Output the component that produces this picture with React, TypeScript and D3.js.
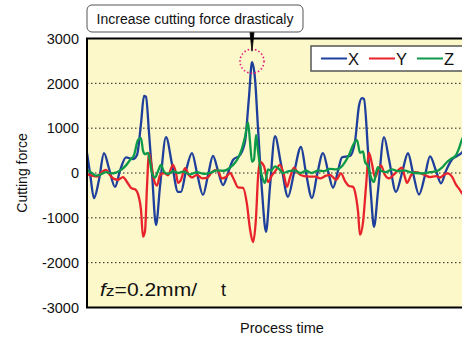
import React from 'react';
import * as d3 from 'd3';

// sampled cutting force, [process time, force]
const seriesX: [number, number][] = [
  [0, 450], [3, 0], [7, -560], [12, -150], [17, 445], [22, 100], [28, -310], [33, 50], [39, 350], [46, 310],
  [50, 400], [54, 1100], [57, 1720], [59, 1700], [62, 900], [65, 0], [69, -1160], [73, -300], [79, 800], [85, 200],
  [91, -420], [94, -420], [99, 50], [105, 445], [110, 0], [116, -490], [121, -50], [126, 380], [131, 50], [136, -270],
  [141, 0], [146, 290], [153, 400], [158, 700], [162, 1700], [165, 2470], [168, 2100], [171, 1000], [175, -400], [179, -1310],
  [183, -300], [188, 820], [194, 200], [201, -530], [207, 0], [214, 580], [219, 0], [225, -560], [230, -50], [236, 445],
  [241, 50], [246, -330], [251, 50], [255, 350], [263, 380], [268, 700], [272, 1500], [275, 1670], [277, 1650], [281, 500],
  [284, -500], [287, -1200], [291, -400], [297, 800], [302, 300], [309, -420], [315, 0], [321, 440], [326, 0], [332, -480],
  [338, -50], [343, 370], [349, 50], [354, -230], [359, 50], [365, 300], [370, 380], [375, 460], [379, 600],
];

const seriesY: [number, number][] = [
  [0, -30], [5, -60], [10, -80], [15, 30], [19, 70], [23, -50], [27, -130], [31, -150], [36, -90], [40, -200],
  [44, -330], [49, -380], [52, -550], [54, -820], [56, -1420], [58, -1300], [60, -300], [62, 445], [65, 100], [67, -150],
  [70, -280], [73, -50], [77, 0], [81, -50], [86, 180], [89, 0], [91, -220], [94, -150], [98, 110], [102, -50],
  [105, -100], [110, -40], [115, -120], [120, -110], [125, 20], [130, 70], [135, -120], [139, -90], [143, 0], [147, -150],
  [151, -320], [156, -330], [160, -700], [163, -1250], [166, -1540], [169, -1000], [171, -100], [173, 245], [177, 150], [181, -200],
  [185, -50], [188, 30], [193, 180], [197, -50], [200, -310], [203, -100], [207, 120], [211, 0], [217, -70], [223, -80],
  [229, -80], [233, -120], [239, -60], [243, -40], [249, -150], [254, -10], [258, -180], [262, -290], [266, -310], [269, -530],
  [271, -850], [273, -1380], [276, -1100], [279, -300], [282, 450], [285, 200], [288, -100], [291, 50], [294, 170], [298, -50],
  [302, -120], [307, -30], [311, 60], [315, 120], [318, -100], [320, -220], [324, -50], [328, 20], [333, 0], [338, -50],
  [343, -90], [349, -70], [353, -100], [357, -40], [361, -10], [365, -80], [369, -260], [372, -350], [375, -450], [379, -500],
];

const seriesZ: [number, number][] = [
  [0, 70], [5, 0], [9, -60], [14, -30], [19, 20], [24, -10], [29, 10], [34, 70], [39, 170], [43, 290],
  [47, 400], [51, 735], [54, 780], [56, 500], [58, 420], [61, 450], [63, 250], [65, 0], [68, -100], [71, 40],
  [74, 180], [77, 30], [81, -20], [86, 40], [91, 0], [96, 30], [103, -30], [110, 20], [117, -20], [124, 10],
  [130, 60], [137, 50], [143, 120], [148, 230], [151, 330], [155, 550], [158, 800], [161, 1130], [163, 700], [165, 250],
  [167, 300], [169, 850], [171, 500], [173, 150], [176, -150], [178, -220], [181, 80], [184, 50], [188, 150], [192, 90],
  [196, 0], [202, 40], [208, 60], [213, 0], [219, 50], [225, 0], [231, 60], [237, 40], [243, 90], [249, 80],
  [254, 130], [258, 245], [262, 400], [266, 620], [270, 735], [273, 450], [276, 480], [278, 250], [281, 150], [284, -100],
  [287, -200], [289, 0], [291, 130], [294, 50], [299, 20], [305, 80], [311, 40], [317, 60], [323, 20], [329, 0],
  [336, -10], [343, 20], [350, 40], [355, 120], [360, 245], [365, 330], [369, 400], [372, 550], [375, 750], [379, 900],
];

const seriesNames = ['X', 'Y', 'Z'];
const seriesColors = ['#1e3f9c', '#e8232b', '#0c9a4a'];
const yTicks = [3000, 2000, 1000, 0, -1000, -2000, -3000];
const gridValues = [2000, 1000, 0, -1000, -2000];
const noteText = 'Increase cutting force drasticaly';

const W = 462, H = 338;
const plot = { left: 87, top: 38.5, right: 472, bottom: 307.5 };
const font = 'Liberation Sans, Arial, sans-serif';

export default function App() {
  const x = d3.scaleLinear().domain([0, 385]).range([plot.left, plot.right]);
  const y = d3.scaleLinear().domain([-3000, 3000]).range([plot.bottom, plot.top]);
  const line = d3.line<[number, number]>()
    .x(d => x(d[0]))
    .y(d => y(d[1]))
    .curve(d3.curveMonotoneX);

  const all = [seriesX, seriesY, seriesZ];
  const peak = seriesX.reduce((a, b) => (b[1] > a[1] ? b : a));
  const px = x(peak[0]), py = y(peak[1]);

  return (
    <svg width={W} height={H} style={{ position: 'absolute', left: 0, top: 0 }} fontFamily={font}>
      <defs>
        <clipPath id="plotClip">
          <rect x={plot.left} y={plot.top} width={plot.right - plot.left} height={plot.bottom - plot.top} />
        </clipPath>
      </defs>
      <rect width={W} height={H} fill="#fff" />
      <rect x={plot.left} y={plot.top} width={plot.right - plot.left} height={plot.bottom - plot.top} fill="#fcf8c9" />

      {gridValues.map(v => (
        <line key={v} x1={plot.left} x2={plot.right} y1={y(v)} y2={y(v)}
          stroke="#222" strokeWidth={1} strokeDasharray="1.5,2.5" />
      ))}

      <g clipPath="url(#plotClip)" fill="none" strokeWidth={2.3} strokeLinejoin="round">
        {all.map((s, i) => (
          <path key={i} d={line(s) || ''} stroke={seriesColors[i]} />
        ))}
      </g>

      <rect x={plot.left} y={plot.top} width={plot.right - plot.left} height={plot.bottom - plot.top}
        fill="none" stroke="#000" strokeWidth={2} />

      {yTicks.map(v => (
        <text key={v} x={79} y={y(v)} dy="0.36em" textAnchor="end" fontSize={14.5} fill="#111">{v}</text>
      ))}

      <text transform={`translate(27, ${(plot.top + plot.bottom) / 2}) rotate(-90)`} textAnchor="middle"
        fontSize={14} fill="#111">Cutting force</text>
      <text x={282} y={333} textAnchor="middle" fontSize={14.5} fill="#111">Process time</text>

      <text x={100} y={296} fontSize={18} fill="#111" textLength={97} lengthAdjust="spacingAndGlyphs">
        <tspan fontStyle="italic">f</tspan><tspan fontSize={15}>z</tspan>=0.2mm/
      </text>
      <text x={221} y={296} fontSize={18} fill="#111">t</text>

      {/* legend */}
      <rect x={311} y={46} width={170} height={25} fill="#fff" stroke="#555" strokeWidth={1.5} />
      {seriesNames.map((n, i) => (
        <g key={n} transform={`translate(${321 + i * 48}, 58.5)`}>
          <line x1={0} x2={26} y1={0} y2={0} stroke={seriesColors[i]} strokeWidth={2} />
          <text x={27} y={6} fontSize={16.5} fill="#111">{n}</text>
        </g>
      ))}

      {/* annotation */}
      <circle cx={px} cy={py - 1} r={12} fill="none" stroke="#e5197f" strokeWidth={1.6} strokeDasharray="1.5,2.2" />
      <path d={`M${px - 2},32 L${px + 2},32 L${px},${py - 11} Z`} fill="#000" stroke="#000" strokeWidth={0.8} />
      <rect x={87} y={5} width={216} height={27} rx={5} fill="#fff" stroke="#555" strokeWidth={1} />
      <text x={195} y={23.5} textAnchor="middle" fontSize={14} fill="#111">{noteText}</text>
    </svg>
  );
}
